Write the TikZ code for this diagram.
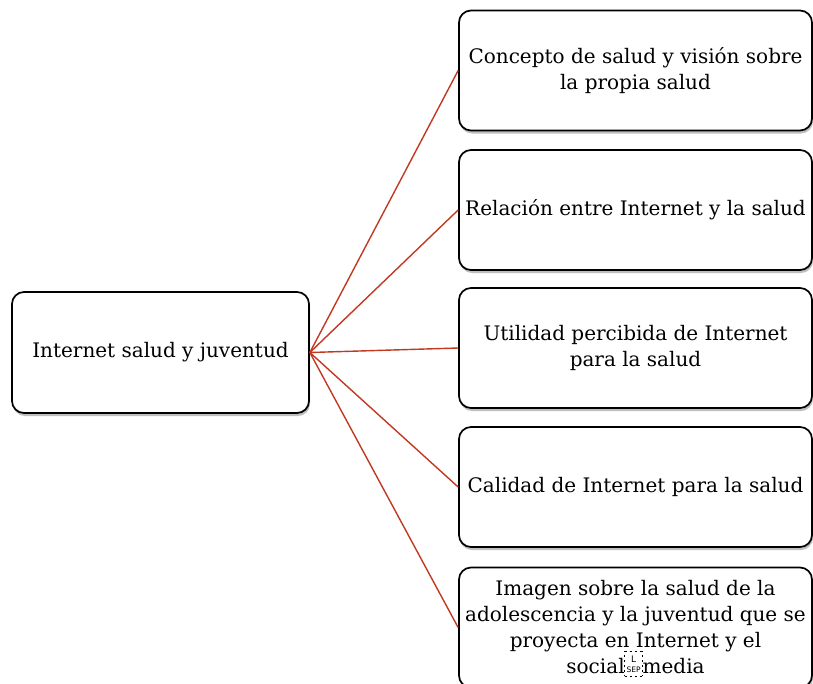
\documentclass[tikz,border=0pt]{standalone}
\usepackage{fontspec}
\setmainfont{DejaVu Serif}
\newfontfamily\sepfont{DejaVu Sans}
\usetikzlibrary{shadows}
\definecolor{linkred}{RGB}{192,57,33}
\newcommand{\sepmark}{{\setlength{\unitlength}{1pt}\begin{picture}(18,14)(0,0)
 \put(0,-2){\dashbox{2.5}(18,25){}}
 \put(9,15){\makebox(0,0){\sepfont\fontsize{9}{9}\selectfont L}}
 \put(9,4){\makebox(0,0){\sepfont\fontsize{7.5}{8}\selectfont SEP}}
 \end{picture}}}
\begin{document}
\begin{tikzpicture}[x=1pt,y=-1pt,
  box/.style={draw=black,line width=1.7pt,rounded corners=12pt,fill=white,
    align=center,inner sep=2pt,
    font=\fontsize{20}{26}\selectfont,
    drop shadow={shadow xshift=1pt,shadow yshift=-3pt,opacity=0.25,fill=black}},
  leftbox/.style={box,minimum width=297pt,minimum height=121pt},
  rightbox/.style={box,minimum width=353pt,minimum height=120pt},
  link/.style={draw=linkred,line width=1.4pt}]
\useasboundingbox (0,0) rectangle (813,683);
\node[leftbox] (root) at (160.5,352.5) {Internet salud y juventud};
\node[rightbox] (a) at (635.5,70.5) {Concepto de salud y visión sobre\\la propia salud};
\node[rightbox] (b) at (635.5,210) {Relación entre Internet y la salud};
\node[rightbox] (c) at (635.5,348) {Utilidad percibida de Internet\\para la salud};
\node[rightbox] (d) at (635.5,487) {Calidad de Internet para la salud};
\node[rightbox] (e) at (635.5,627.5) {Imagen sobre la salud de la\\adolescencia y la juventud que se\\proyecta en Internet y el\\social\sepmark media};
\foreach \t in {a,b,c,d,e}{\draw[link] (root.east) -- (\t.west);}
\end{tikzpicture}
\end{document}
